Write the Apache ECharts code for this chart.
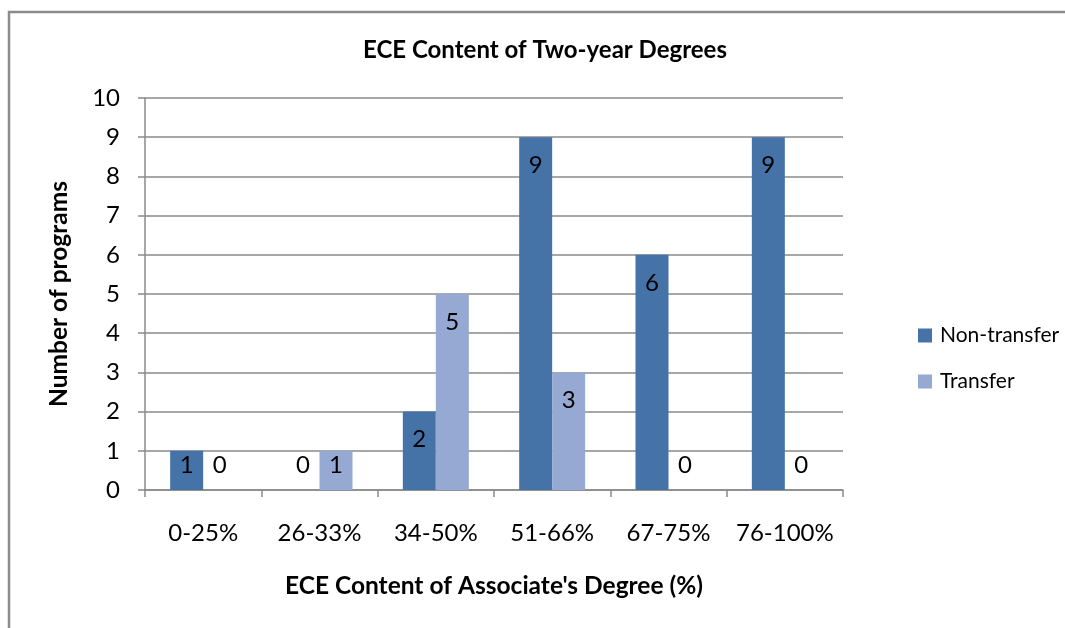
<!DOCTYPE html>
<html>
<head>
<meta charset="utf-8">
<script src="https://cdn.jsdelivr.net/npm/echarts@6/dist/echarts.min.js"></script>
<style>
  html, body { margin: 0; padding: 0; background: #fff; }
  #chart { width: 1065px; height: 628px; }
</style>
</head>
<body>
<div id="chart"></div>
<script>
// data
const categories = ['0-25%', '26-33%', '34-50%', '51-66%', '67-75%', '76-100%'];
const nonTransfer = [1, 0, 2, 9, 6, 9];
const transfer = [0, 1, 5, 3, 0, 0];
const seriesNames = ['Non-transfer', 'Transfer'];

const FONT = 'Lato, "Open Sans", sans-serif';
const GRID_COLOR = '#8a8a8a';

// small bars get their label sitting just above the base, like Excel does
function withLabels(values) {
    return values.map(v => {
        if (v <= 1) {
            return { value: v, label: { position: 'insideBottom', distance: 13 } };
        }
        return v;
    });
}

const chart = echarts.init(document.getElementById('chart'));

const barLabel = {
    show: true,
    position: 'insideTop',
    distance: 16,
    color: '#000',
    fontSize: 24,
    fontFamily: FONT
};

chart.setOption({
    animation: false,
    title: {
        text: 'ECE Content of Two-year Degrees',
        left: 540,
        textAlign: 'center',
        top: 33,
        textStyle: { fontSize: 24, fontWeight: 'bold', fontFamily: FONT, color: '#000' }
    },
    graphic: [{
        type: 'rect',
        shape: { x: 9, y: 12, width: 1200, height: 800 },
        style: { fill: 'none', stroke: '#8c8c8c', lineWidth: 2.5 },
        silent: true
    }],
    legend: {
        orient: 'vertical',
        left: 913,
        top: 320,
        itemWidth: 14,
        itemHeight: 14,
        itemGap: 25,
        icon: 'rect',
        data: seriesNames,
        textStyle: { fontSize: 21, fontFamily: FONT, color: '#000', padding: [0, 0, 0, 3] }
    },
    grid: { left: 145, right: 222, top: 98, bottom: 138 },
    xAxis: {
        type: 'category',
        data: categories,
        name: "ECE Content of Associate's Degree (%)",
        nameLocation: 'middle',
        nameGap: 84,
        nameTextStyle: { fontSize: 24.5, fontWeight: 'bold', fontFamily: FONT, color: '#000' },
        axisLine: { lineStyle: { color: GRID_COLOR, width: 1.5 } },
        axisTick: { show: true, length: 7, lineStyle: { color: GRID_COLOR, width: 1.5 } },
        axisLabel: { interval: 0, margin: 31, fontSize: 24, fontFamily: FONT, color: '#000' }
    },
    yAxis: {
        type: 'value',
        min: 0,
        max: 10,
        interval: 1,
        name: 'Number of programs',
        nameLocation: 'middle',
        nameRotate: 90,
        nameGap: 73,
        nameTextStyle: { fontSize: 24.5, fontWeight: 'bold', fontFamily: FONT, color: '#000' },
        axisLine: { show: true, lineStyle: { color: GRID_COLOR, width: 1.5 } },
        axisTick: { show: true, length: 7, lineStyle: { color: GRID_COLOR, width: 1.5 } },
        splitLine: { lineStyle: { color: GRID_COLOR, width: 1.5 } },
        axisLabel: { margin: 25, fontSize: 24, fontFamily: FONT, color: '#000' }
    },
    series: [
        {
            name: seriesNames[0],
            type: 'bar',
            data: withLabels(nonTransfer),
            barWidth: 33,
            barGap: '0%',
            itemStyle: { color: '#4572A7' },
            label: barLabel
        },
        {
            name: seriesNames[1],
            type: 'bar',
            data: withLabels(transfer),
            barWidth: 33,
            barGap: '0%',
            itemStyle: { color: '#95A9D2' },
            label: barLabel
        }
    ]
});
</script>
</body>
</html>
